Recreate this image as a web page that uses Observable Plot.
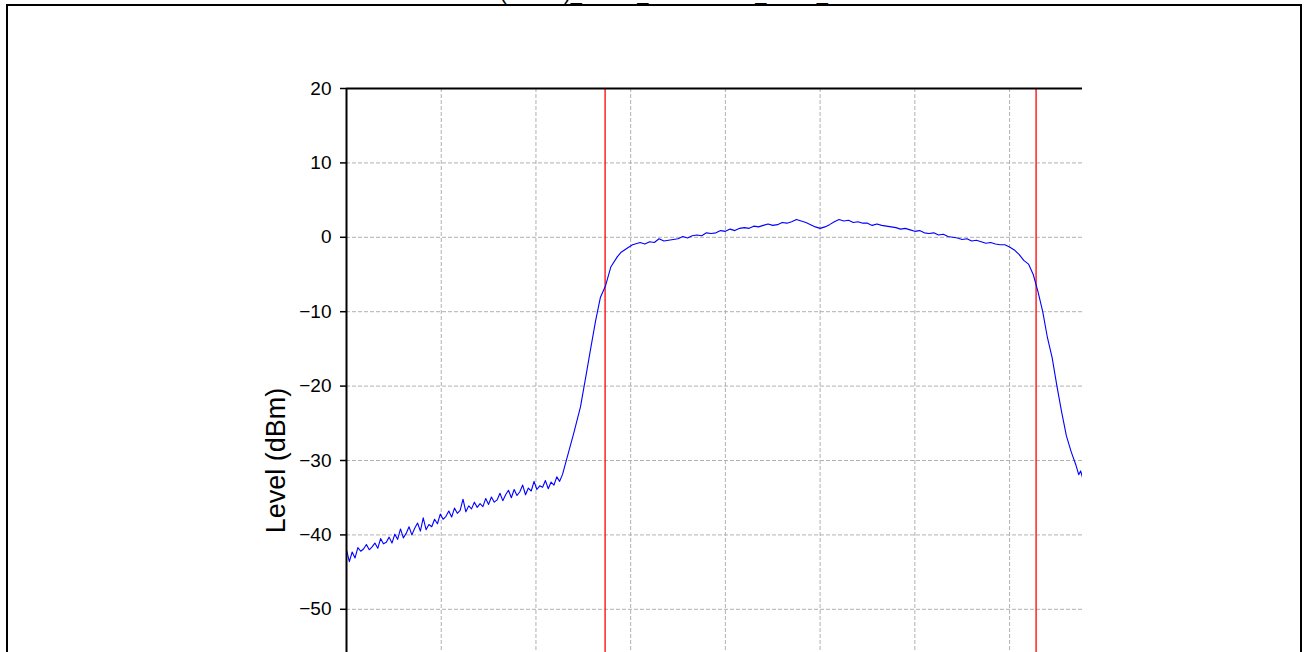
<!DOCTYPE html>
<html>
<head>
<meta charset="utf-8">
<script src="https://cdn.jsdelivr.net/npm/d3@7"></script>
<script src="https://cdn.jsdelivr.net/npm/@observablehq/plot@0.6"></script>
<style>
  html, body { margin: 0; padding: 0; width: 1308px; height: 652px; overflow: hidden; background: #fff; }
  #chart { position: absolute; left: 0; top: 0; }
  #title { position: absolute; left: 441px; top: -17.4px; font: 20px/20px "Liberation Sans", Arial, sans-serif; white-space: nowrap; color: #000; }
  #frame { position: absolute; left: 6px; top: 4px; width: 1296px; height: 760px; border: 2px solid #000; box-sizing: border-box; pointer-events: none; }
</style>
</head>
<body>
<div id="chart"></div>
<div id="title">ACLR (LTE20)_BAND_CH200RXM_DATA_01</div>
<div id="frame"></div>
<script>
const freq = [
  // lower adjacent channel (noisy floor)
  -50.0,-49.7,-49.4,-49.1,-48.8,-48.5,-48.2,-47.9,-47.6,-47.3,
  -47.0,-46.7,-46.4,-46.1,-45.8,-45.5,-45.2,-44.9,-44.6,-44.3,
  -44.0,-43.7,-43.4,-43.1,-42.8,-42.5,-42.2,-41.9,-41.6,-41.3,
  -41.0,-40.7,-40.4,-40.1,-39.8,-39.5,-39.2,-38.9,-38.6,-38.3,
  -38.0,-37.7,-37.4,-37.1,-36.8,-36.5,-36.2,-35.9,-35.6,-35.3,
  -35.0,-34.7,-34.4,-34.1,-33.8,-33.5,-33.2,-32.9,-32.6,-32.3,
  -32.0,-31.7,-31.4,-31.1,-30.8,-30.5,-30.2,-29.9,-29.6,-29.3,
  -29.0,-28.7,-28.4,-28.1,-27.8,-27.5,-27.2,-26.9,
  // rising edge
  -26.0,-25.3,-24.8,-24.2,-23.7,-23.2,-22.65,-22.1,-21.4,-21.0,-20.3,-19.8,
  // in-band
  -19.0,-18.5,-18.0,-17.5,-17.0,-16.5,-16.0,-15.5,-15.0,-14.5,
  -14.0,-13.5,-13.0,-12.5,-12.0,-11.5,-11.0,-10.5,-10.0,-9.5,
  -9.0,-8.5,-8.0,-7.5,-7.0,-6.5,-6.0,-5.5,-5.0,-4.5,
  -4.0,-3.5,-3.0,-2.5,-2.0,-1.5,-1.0,-0.5,0.0,0.5,
  1.0,1.5,2.0,2.5,3.0,3.5,4.0,4.5,5.0,5.5,
  6.0,6.5,7.0,7.5,8.0,8.5,9.0,9.5,10.0,10.5,
  11.0,11.5,12.0,12.5,13.0,13.5,14.0,14.5,15.0,15.5,
  16.0,16.5,17.0,17.5,18.0,18.5,19.0,19.5,
  // falling edge
  20.0,20.5,21.0,21.5,22.0,22.5,23.0,23.5,24.0,24.5,
  25.0,25.5,26.0,26.5,27.0,27.3,27.5,27.7
];
const level = [
  -42.0,-43.6,-42.3,-43.1,-41.7,-42.2,-41.9,-41.3,-42.0,-41.6,
  -41.1,-41.8,-40.5,-41.2,-41.0,-40.3,-41.1,-39.9,-40.6,-39.2,
  -40.4,-39.8,-38.9,-40.0,-39.1,-38.4,-39.5,-37.7,-39.3,-38.6,
  -38.9,-37.9,-38.5,-37.2,-37.9,-37.5,-36.8,-37.6,-36.4,-37.1,
  -36.7,-35.2,-36.9,-36.1,-36.5,-35.6,-36.3,-35.8,-36.2,-35.1,
  -35.9,-34.9,-35.6,-35.3,-34.4,-35.4,-34.6,-34.0,-35.0,-33.9,
  -34.7,-34.2,-33.3,-34.6,-33.7,-34.1,-32.8,-33.9,-33.4,-33.6,
  -32.7,-33.8,-32.9,-33.3,-32.2,-32.8,-31.9,-30.5,
  -26.3,-22.8,-19.2,-14.8,-11.2,-8.1,-6.5,-4.0,-2.6,-2.0,-1.4,-1.0,
  -0.7,-0.9,-0.6,-0.7,-0.2,-0.5,-0.4,-0.3,-0.2,0.1,
  -0.1,0.2,0.3,0.2,0.6,0.5,0.6,0.9,0.8,1.1,
  0.9,1.2,1.3,1.2,1.5,1.4,1.6,1.8,1.6,1.7,
  2.0,1.9,2.1,2.4,2.2,2.0,1.7,1.4,1.2,1.4,
  1.7,2.1,2.4,2.2,2.3,2.0,2.1,1.9,1.9,1.6,
  1.8,1.6,1.5,1.4,1.3,1.1,1.2,1.0,0.8,0.9,
  0.6,0.5,0.6,0.3,0.4,0.1,0.0,-0.1,-0.3,-0.2,
  -0.5,-0.4,-0.6,-0.8,-0.7,-0.9,-1.0,-1.0,
  -1.3,-1.7,-2.3,-3.1,-3.6,-5.0,-7.3,-10.0,-13.5,-16.2,
  -20.0,-23.5,-26.7,-28.8,-30.6,-31.9,-31.4,-32.3
];
// Channel edges (red markers), MHz
const bandEdges = [-22.7, 22.8];
// Axis set-up values
const xDomain = [-50, 27.7];
const yDomain = [-80, 20];
const xGrid = [-40, -30, -20, -10, 0, 10, 20];
const yTicks = [20, 10, 0, -10, -20, -30, -40, -50];
const yGrid = [10, 0, -10, -20, -30, -40, -50, -60, -70];
const yLabel = "Level (dBm)";

const trace = freq.map((f, i) => ({f, level: level[i]}));

const chart = Plot.plot({
  width: 1308,
  height: 900,
  marginLeft: 346,
  marginRight: 226,
  marginTop: 88,
  marginBottom: 68,
  x: {domain: xDomain, axis: null},
  y: {domain: yDomain, axis: null},
  style: {fontFamily: "'Liberation Sans', Arial, sans-serif", fontSize: "19px", background: "white", color: "black"},
  marks: [
    Plot.gridX(xGrid, {stroke: "#a8a8a8", strokeOpacity: 1, strokeWidth: 0.9, strokeDasharray: "4,2"}),
    Plot.gridY(yGrid, {stroke: "#a8a8a8", strokeOpacity: 1, strokeWidth: 0.9, strokeDasharray: "4,2"}),
    Plot.ruleX(bandEdges, {stroke: "#ff0000", strokeWidth: 1.3}),
    Plot.line(trace, {x: "f", y: "level", stroke: "#0000ff", strokeWidth: 1.1, clip: true}),
    Plot.ruleY([yDomain[1]], {stroke: "black", strokeWidth: 2}),
    Plot.ruleX([xDomain[0]], {stroke: "black", strokeWidth: 2}),
    Plot.axisY({ticks: yTicks, tickSize: 6, tickPadding: 9, fontSize: 19, label: null, strokeWidth: 1.5}),
    Plot.text([yLabel], {frameAnchor: "left", text: d => d, rotate: -90, dx: -70, textAnchor: "middle", fontSize: 27})
  ]
});
document.getElementById("chart").appendChild(chart);
</script>
</body>
</html>
